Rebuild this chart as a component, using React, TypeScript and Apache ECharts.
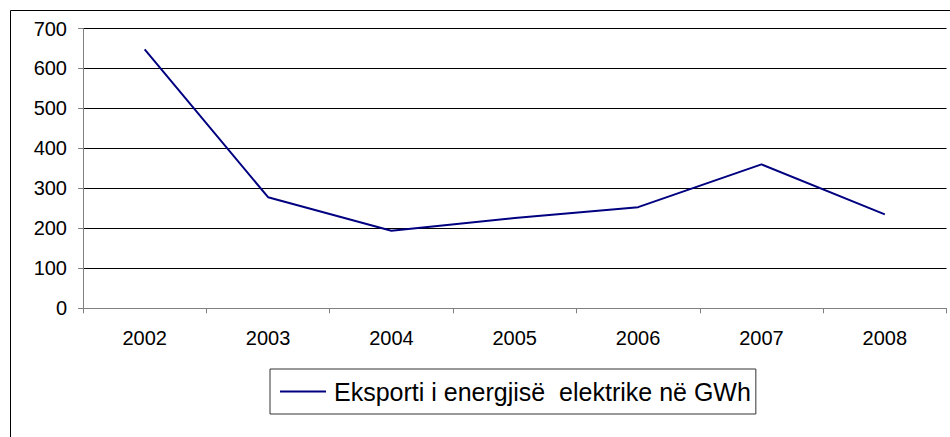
import React, { useEffect, useRef } from "react";
import * as echarts from "echarts";

const categories = ["2002", "2003", "2004", "2005", "2006", "2007", "2008"];
const exportValues = [648, 278, 194, 226, 253, 360, 235];
const yTicks = [0, 100, 200, 300, 400, 500, 600, 700];
const seriesName = "Eksporti i energjisë  elektrike në GWh";

export default function App() {
  const ref = useRef<HTMLDivElement>(null);
  useEffect(() => {
    if (!ref.current) return;
    const chart = echarts.init(ref.current, null, { renderer: "svg" });
    const font = "Liberation Sans, Arial, sans-serif";
    chart.setOption({
      animation: false,
      backgroundColor: "#ffffff",
      textStyle: { fontFamily: font },
      graphic: [
        {
          type: "rect",
          shape: { x: 10.5, y: 10.5, width: 960, height: 460 },
          style: { fill: "none", stroke: "#000000", lineWidth: 1 },
          silent: true,
        },
      ],
      grid: { left: 83, right: 3.5, top: 28.5, bottom: 128.7 },
      legend: {
        show: true,
        left: 270,
        top: 369,
        orient: "horizontal",
        icon: "rect",
        itemWidth: 46,
        itemHeight: 2,
        itemGap: 8,
        padding: [10, 5, 10, 10],
        borderColor: "#333333",
        borderWidth: 1,
        textStyle: { fontSize: 25, color: "#000000", fontFamily: font, padding: [0, 0, 0, 3] },
        data: [{ name: seriesName }],
      },
      xAxis: {
        type: "category",
        data: categories,
        boundaryGap: true,
        axisLine: { show: true, lineStyle: { color: "#808080", width: 1 } },
        axisTick: { show: true, length: 5, lineStyle: { color: "#808080" } },
        axisLabel: { color: "#000000", fontSize: 20, margin: 20 },
        splitLine: { show: false },
      },
      yAxis: {
        type: "value",
        min: yTicks[0],
        max: yTicks[yTicks.length - 1],
        interval: yTicks[1] - yTicks[0],
        axisLine: { show: true, lineStyle: { color: "#808080", width: 1 } },
        axisTick: { show: true, length: 5, lineStyle: { color: "#808080" } },
        axisLabel: { color: "#000000", fontSize: 20, margin: 16 },
        splitLine: { show: true, lineStyle: { color: "#000000", width: 1 } },
      },
      series: [
        {
          name: seriesName,
          type: "line",
          data: exportValues,
          symbol: "none",
          lineStyle: { color: "#000080", width: 2 },
          itemStyle: { color: "#000080" },
        },
      ],
    });
    return () => chart.dispose();
  }, []);
  return (
    <div
      ref={ref}
      style={{ position: "fixed", left: 0, top: 0, width: 950, height: 437 }}
    />
  );
}
